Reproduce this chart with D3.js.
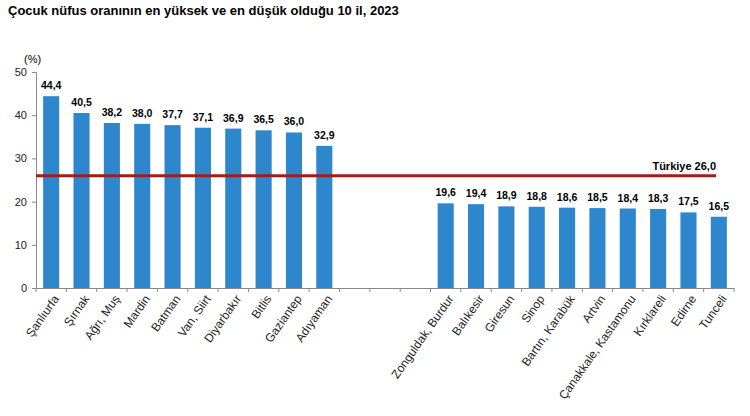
<!DOCTYPE html><html><head><meta charset="utf-8"><script src="https://cdn.jsdelivr.net/npm/d3@7"></script>
<style>body{margin:0;background:#fff}</style></head><body><svg id="c" width="750" height="416"></svg>
<script>
const categories=["Şanlıurfa","Şırnak","Ağrı, Muş","Mardin","Batman","Van, Siirt","Diyarbakır","Bitlis","Gaziantep","Adıyaman","_1","_2","_3","Zonguldak, Burdur","Balıkesir","Giresun","Sinop","Bartın, Karabük","Artvin","Çanakkale, Kastamonu","Kırklareli","Edirne","Tunceli"];
const values=[44.4,40.5,38.2,38.0,37.7,37.1,36.9,36.5,36.0,32.9,null,null,null,19.6,19.4,18.9,18.8,18.6,18.5,18.4,18.3,17.5,16.5];
const yTicks=[0,10,20,30,40,50];
const turkiye=26.0;
const svg=d3.select("#c"),F="Liberation Sans, Arial, sans-serif";
const x=d3.scaleBand().domain(categories).range([36,734]).paddingInner(0.47).paddingOuter(0.235);
const y=d3.scaleLinear().domain([0,50]).range([288,72]);
svg.append("text").attr("x",8).attr("y",15).attr("font-family",F).attr("font-size",13).attr("font-weight","bold").text("Çocuk nüfus oranının en yüksek ve en düşük olduğu 10 il, 2023");
const ya=svg.append("g").attr("transform","translate(36,0)").call(d3.axisLeft(y).tickValues(yTicks).tickSize(4).tickPadding(5));
ya.selectAll("text").attr("font-family",F).attr("font-size",11).attr("fill","#222");
ya.selectAll("line,path").attr("stroke","#888");
svg.append("text").attr("x",24).attr("y",63).attr("font-family",F).attr("font-size",11).text("(%)");
const xa=svg.append("g").attr("transform","translate(0,288)").call(d3.axisBottom(x).tickSize(0).tickFormat(d=>d.startsWith("_")?"":d));
xa.select("path").attr("stroke","#888");
const step=x.step();
xa.selectAll(".tk").data(d3.range(categories.length+1)).enter().append("line").attr("x1",i=>36+i*step).attr("x2",i=>36+i*step).attr("y1",0).attr("y2",4).attr("stroke","#888");
xa.selectAll(".tick text").attr("font-family",F).attr("font-size",12).attr("fill","#222").attr("text-anchor","end").attr("dy","0").attr("transform","translate(6,9) rotate(-55)");
const d=categories.map((c,i)=>({c,v:values[i]})).filter(e=>e.v!=null);
svg.selectAll(".bar").data(d).enter().append("rect").attr("x",e=>x(e.c)).attr("width",x.bandwidth()).attr("y",e=>y(e.v)).attr("height",e=>288-y(e.v)).attr("fill","#2e86cc");
svg.selectAll(".lbl").data(d).enter().append("text").attr("x",e=>x(e.c)+x.bandwidth()/2).attr("y",e=>y(e.v)-7).attr("text-anchor","middle").attr("font-family",F).attr("font-size",10.5).attr("font-weight","bold").text(e=>e.v.toFixed(1).replace(".",","));
svg.append("line").attr("x1",36).attr("x2",716).attr("y1",y(turkiye)).attr("y2",y(turkiye)).attr("stroke","#a31c1c").attr("stroke-width",3);
svg.append("text").attr("x",716).attr("y",y(turkiye)-6).attr("text-anchor","end").attr("font-family",F).attr("font-size",11).attr("font-weight","bold").text("Türkiye "+turkiye.toFixed(1).replace(".",","));
</script></body></html>
